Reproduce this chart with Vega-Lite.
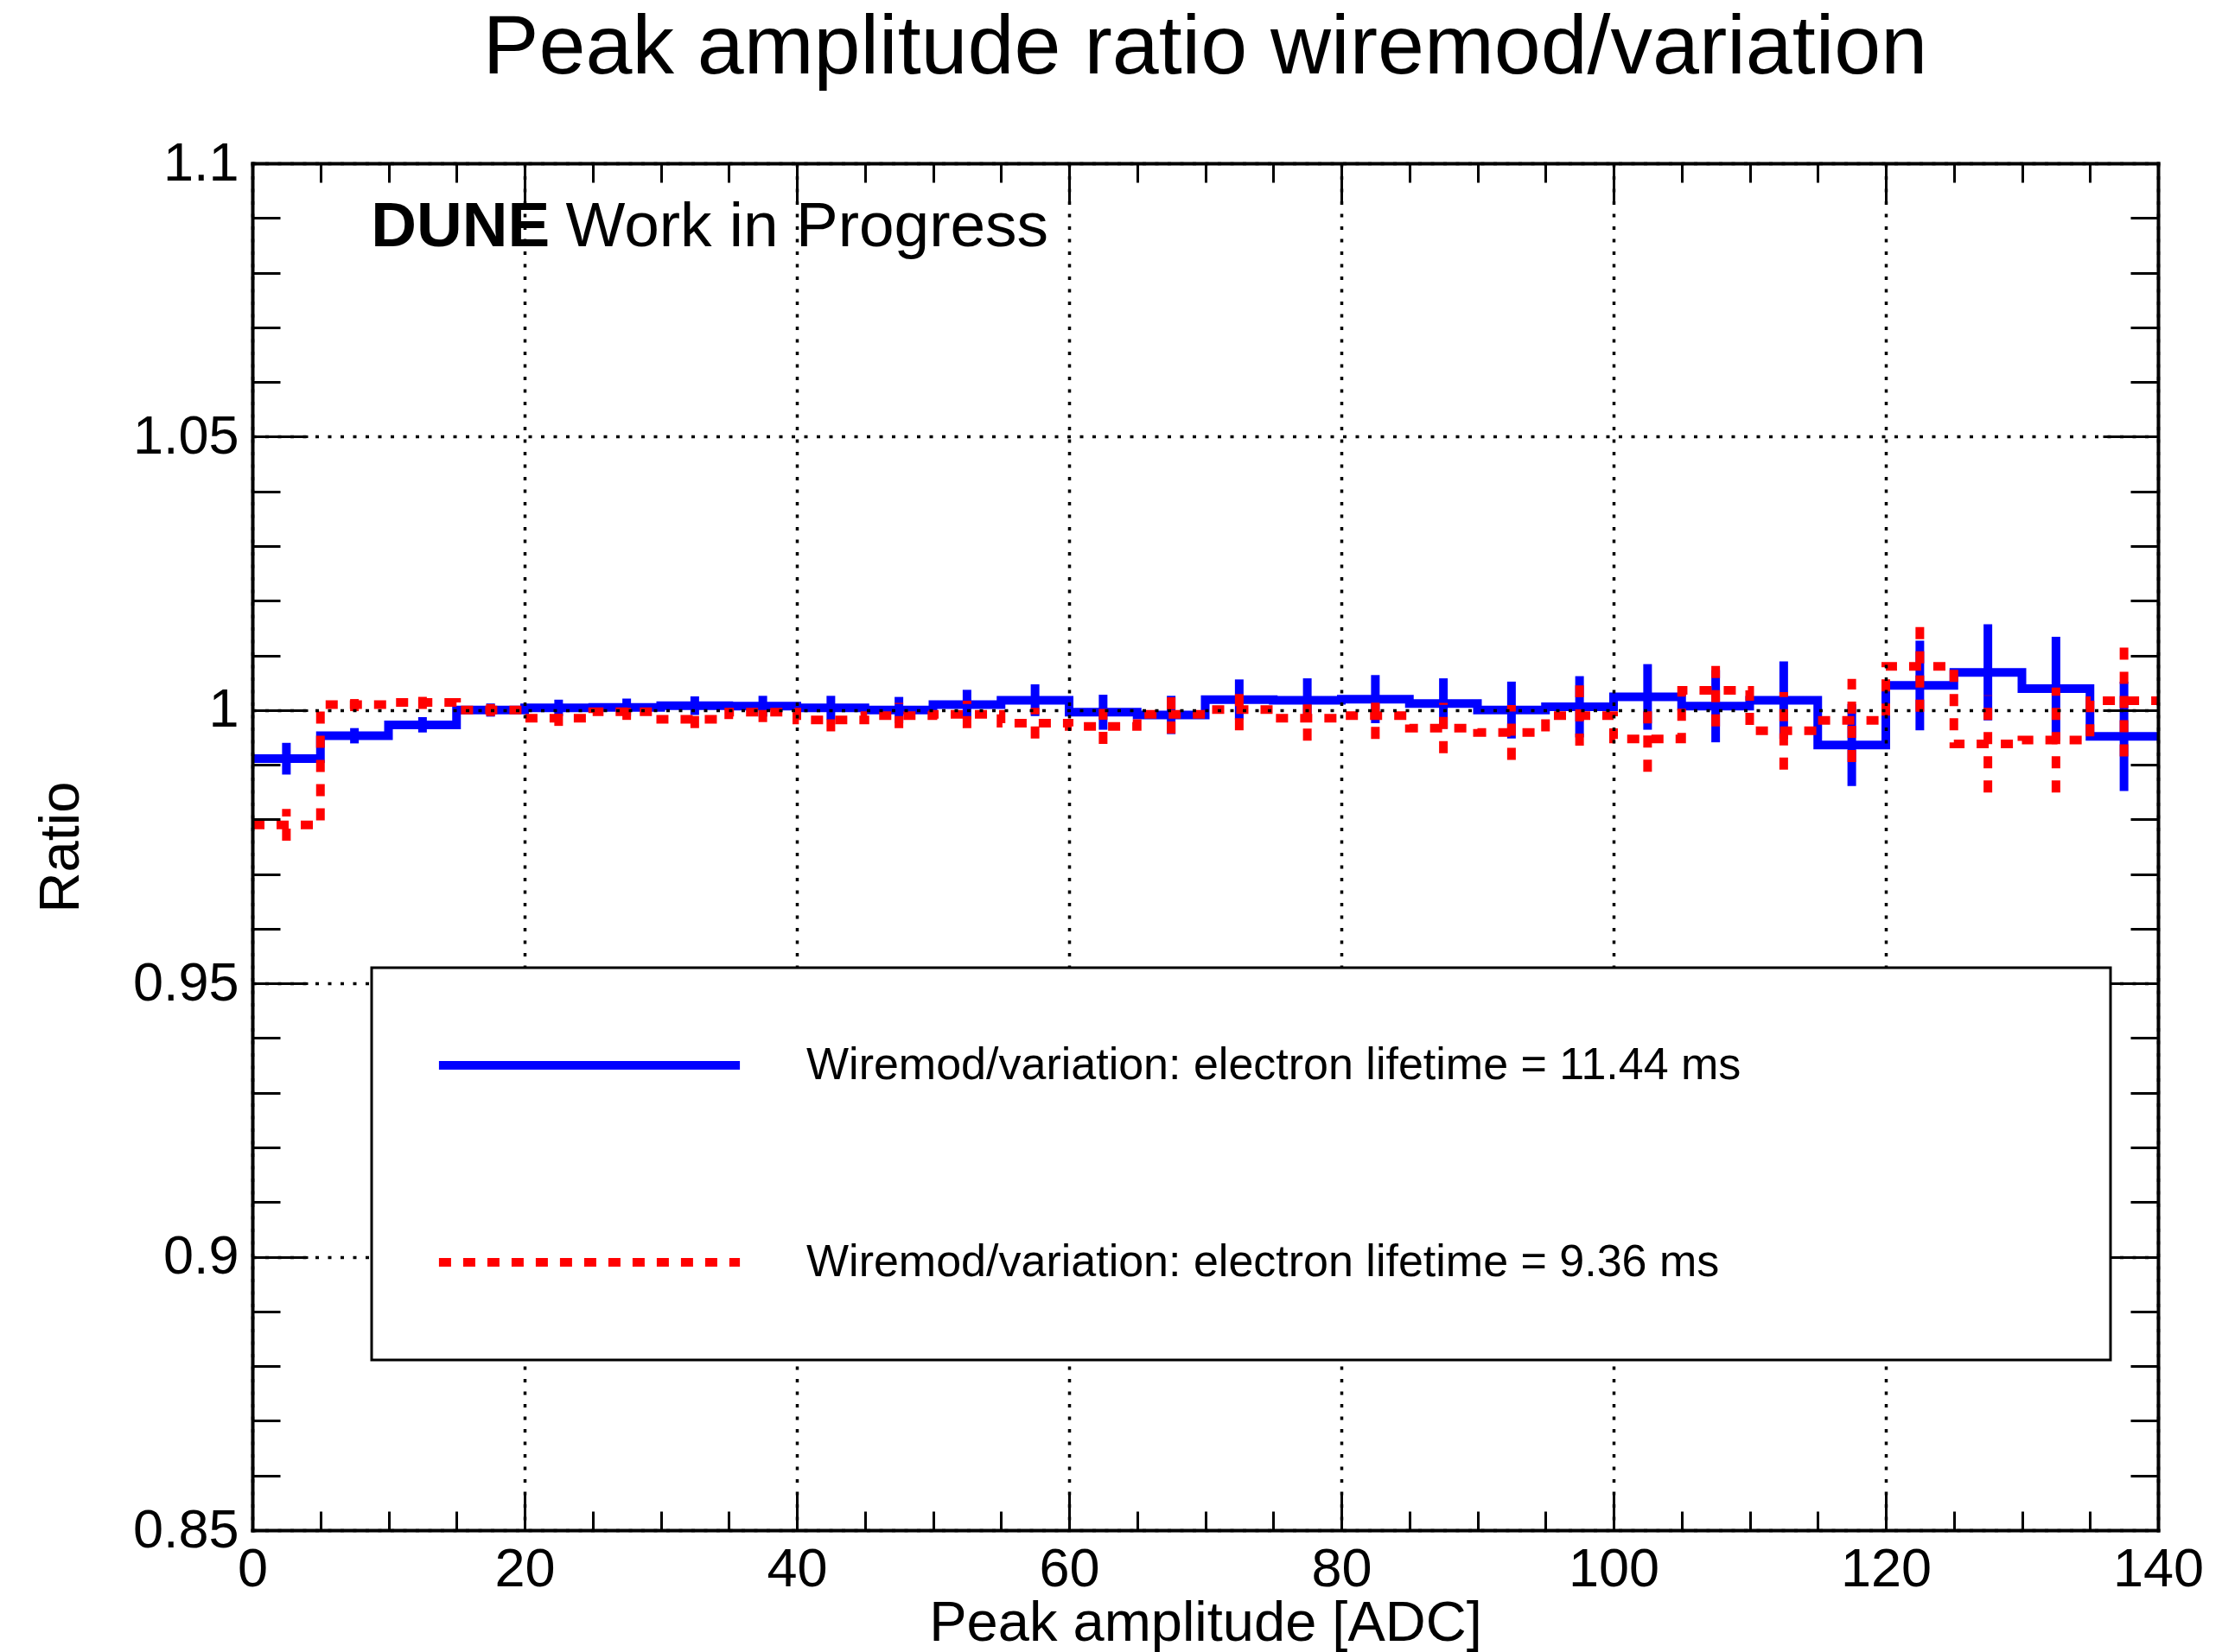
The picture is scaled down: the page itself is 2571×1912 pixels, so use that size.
{
  "$schema": "https://vega.github.io/schema/vega-lite/v6.json",
  "width": 2205,
  "height": 1582,
  "autosize": {"type": "none"},
  "padding": {"left": 292, "top": 189, "right": 74, "bottom": 141},
  "background": "white",
  "title": {
    "text": "Peak amplitude ratio wiremod/variation",
    "font": "Liberation Sans",
    "fontSize": 97,
    "fontWeight": "normal",
    "color": "black",
    "anchor": "middle",
    "frame": "group",
    "baseline": "alphabetic",
    "offset": -24
  },
  "datasets": {
    "blue": [
      {"s": "Wiremod/variation: electron lifetime = 11.44 ms", "lo": 0, "hi": 5, "x": 2.5, "y": 0.9911, "e": 0.0029},
      {"s": "Wiremod/variation: electron lifetime = 11.44 ms", "lo": 5, "hi": 10, "x": 7.5, "y": 0.9953, "e": 0.0014},
      {"s": "Wiremod/variation: electron lifetime = 11.44 ms", "lo": 10, "hi": 15, "x": 12.5, "y": 0.9973, "e": 0.0014},
      {"s": "Wiremod/variation: electron lifetime = 11.44 ms", "lo": 15, "hi": 20, "x": 17.5, "y": 1.0000, "e": 0.0012},
      {"s": "Wiremod/variation: electron lifetime = 11.44 ms", "lo": 20, "hi": 25, "x": 22.5, "y": 1.0004, "e": 0.0015},
      {"s": "Wiremod/variation: electron lifetime = 11.44 ms", "lo": 25, "hi": 30, "x": 27.5, "y": 1.0005, "e": 0.0016},
      {"s": "Wiremod/variation: electron lifetime = 11.44 ms", "lo": 30, "hi": 35, "x": 32.5, "y": 1.0008, "e": 0.0017},
      {"s": "Wiremod/variation: electron lifetime = 11.44 ms", "lo": 35, "hi": 40, "x": 37.5, "y": 1.0007, "e": 0.0019},
      {"s": "Wiremod/variation: electron lifetime = 11.44 ms", "lo": 40, "hi": 45, "x": 42.5, "y": 1.0004, "e": 0.0022},
      {"s": "Wiremod/variation: electron lifetime = 11.44 ms", "lo": 45, "hi": 50, "x": 47.5, "y": 1.0000, "e": 0.0024},
      {"s": "Wiremod/variation: electron lifetime = 11.44 ms", "lo": 50, "hi": 55, "x": 52.5, "y": 1.0010, "e": 0.0027},
      {"s": "Wiremod/variation: electron lifetime = 11.44 ms", "lo": 55, "hi": 60, "x": 57.5, "y": 1.0018, "e": 0.0029},
      {"s": "Wiremod/variation: electron lifetime = 11.44 ms", "lo": 60, "hi": 65, "x": 62.5, "y": 0.9996, "e": 0.0032},
      {"s": "Wiremod/variation: electron lifetime = 11.44 ms", "lo": 65, "hi": 70, "x": 67.5, "y": 0.9991, "e": 0.0035},
      {"s": "Wiremod/variation: electron lifetime = 11.44 ms", "lo": 70, "hi": 75, "x": 72.5, "y": 1.0019, "e": 0.0037},
      {"s": "Wiremod/variation: electron lifetime = 11.44 ms", "lo": 75, "hi": 80, "x": 77.5, "y": 1.0018, "e": 0.0040},
      {"s": "Wiremod/variation: electron lifetime = 11.44 ms", "lo": 80, "hi": 85, "x": 82.5, "y": 1.0020, "e": 0.0044},
      {"s": "Wiremod/variation: electron lifetime = 11.44 ms", "lo": 85, "hi": 90, "x": 87.5, "y": 1.0012, "e": 0.0046},
      {"s": "Wiremod/variation: electron lifetime = 11.44 ms", "lo": 90, "hi": 95, "x": 92.5, "y": 1.0000, "e": 0.0052},
      {"s": "Wiremod/variation: electron lifetime = 11.44 ms", "lo": 95, "hi": 100, "x": 97.5, "y": 1.0006, "e": 0.0056},
      {"s": "Wiremod/variation: electron lifetime = 11.44 ms", "lo": 100, "hi": 105, "x": 102.5, "y": 1.0024, "e": 0.0060},
      {"s": "Wiremod/variation: electron lifetime = 11.44 ms", "lo": 105, "hi": 110, "x": 107.5, "y": 1.0007, "e": 0.0066},
      {"s": "Wiremod/variation: electron lifetime = 11.44 ms", "lo": 110, "hi": 115, "x": 112.5, "y": 1.0018, "e": 0.0071},
      {"s": "Wiremod/variation: electron lifetime = 11.44 ms", "lo": 115, "hi": 120, "x": 117.5, "y": 0.9936, "e": 0.0075},
      {"s": "Wiremod/variation: electron lifetime = 11.44 ms", "lo": 120, "hi": 125, "x": 122.5, "y": 1.0045, "e": 0.0082},
      {"s": "Wiremod/variation: electron lifetime = 11.44 ms", "lo": 125, "hi": 130, "x": 127.5, "y": 1.0069, "e": 0.0088},
      {"s": "Wiremod/variation: electron lifetime = 11.44 ms", "lo": 130, "hi": 135, "x": 132.5, "y": 1.0039, "e": 0.0095},
      {"s": "Wiremod/variation: electron lifetime = 11.44 ms", "lo": 135, "hi": 140, "x": 137.5, "y": 0.9952, "e": 0.0100}
    ],
    "red": [
      {"s": "Wiremod/variation: electron lifetime = 9.36 ms", "lo": 0, "hi": 5, "x": 2.5, "y": 0.9790, "e": 0.0029},
      {"s": "Wiremod/variation: electron lifetime = 9.36 ms", "lo": 5, "hi": 10, "x": 7.5, "y": 1.0010, "e": 0.0012},
      {"s": "Wiremod/variation: electron lifetime = 9.36 ms", "lo": 10, "hi": 15, "x": 12.5, "y": 1.0014, "e": 0.0012},
      {"s": "Wiremod/variation: electron lifetime = 9.36 ms", "lo": 15, "hi": 20, "x": 17.5, "y": 1.0000, "e": 0.0011},
      {"s": "Wiremod/variation: electron lifetime = 9.36 ms", "lo": 20, "hi": 25, "x": 22.5, "y": 0.9985, "e": 0.0014},
      {"s": "Wiremod/variation: electron lifetime = 9.36 ms", "lo": 25, "hi": 30, "x": 27.5, "y": 0.9997, "e": 0.0015},
      {"s": "Wiremod/variation: electron lifetime = 9.36 ms", "lo": 30, "hi": 35, "x": 32.5, "y": 0.9983, "e": 0.0016},
      {"s": "Wiremod/variation: electron lifetime = 9.36 ms", "lo": 35, "hi": 40, "x": 37.5, "y": 0.9996, "e": 0.0018},
      {"s": "Wiremod/variation: electron lifetime = 9.36 ms", "lo": 40, "hi": 45, "x": 42.5, "y": 0.9982, "e": 0.0021},
      {"s": "Wiremod/variation: electron lifetime = 9.36 ms", "lo": 45, "hi": 50, "x": 47.5, "y": 0.9990, "e": 0.0023},
      {"s": "Wiremod/variation: electron lifetime = 9.36 ms", "lo": 50, "hi": 55, "x": 52.5, "y": 0.9992, "e": 0.0025},
      {"s": "Wiremod/variation: electron lifetime = 9.36 ms", "lo": 55, "hi": 60, "x": 57.5, "y": 0.9976, "e": 0.0028},
      {"s": "Wiremod/variation: electron lifetime = 9.36 ms", "lo": 60, "hi": 65, "x": 62.5, "y": 0.9970, "e": 0.0032},
      {"s": "Wiremod/variation: electron lifetime = 9.36 ms", "lo": 65, "hi": 70, "x": 67.5, "y": 0.9992, "e": 0.0035},
      {"s": "Wiremod/variation: electron lifetime = 9.36 ms", "lo": 70, "hi": 75, "x": 72.5, "y": 1.0001, "e": 0.0038},
      {"s": "Wiremod/variation: electron lifetime = 9.36 ms", "lo": 75, "hi": 80, "x": 77.5, "y": 0.9985, "e": 0.0041},
      {"s": "Wiremod/variation: electron lifetime = 9.36 ms", "lo": 80, "hi": 85, "x": 82.5, "y": 0.9990, "e": 0.0043},
      {"s": "Wiremod/variation: electron lifetime = 9.36 ms", "lo": 85, "hi": 90, "x": 87.5, "y": 0.9967, "e": 0.0046},
      {"s": "Wiremod/variation: electron lifetime = 9.36 ms", "lo": 90, "hi": 95, "x": 92.5, "y": 0.9959, "e": 0.0050},
      {"s": "Wiremod/variation: electron lifetime = 9.36 ms", "lo": 95, "hi": 100, "x": 97.5, "y": 0.9990, "e": 0.0055},
      {"s": "Wiremod/variation: electron lifetime = 9.36 ms", "lo": 100, "hi": 105, "x": 102.5, "y": 0.9947, "e": 0.0060},
      {"s": "Wiremod/variation: electron lifetime = 9.36 ms", "lo": 105, "hi": 110, "x": 107.5, "y": 1.0036, "e": 0.0066},
      {"s": "Wiremod/variation: electron lifetime = 9.36 ms", "lo": 110, "hi": 115, "x": 112.5, "y": 0.9962, "e": 0.0071},
      {"s": "Wiremod/variation: electron lifetime = 9.36 ms", "lo": 115, "hi": 120, "x": 117.5, "y": 0.9981, "e": 0.0076},
      {"s": "Wiremod/variation: electron lifetime = 9.36 ms", "lo": 120, "hi": 125, "x": 122.5, "y": 1.0080, "e": 0.0083},
      {"s": "Wiremod/variation: electron lifetime = 9.36 ms", "lo": 125, "hi": 130, "x": 127.5, "y": 0.9938, "e": 0.0089},
      {"s": "Wiremod/variation: electron lifetime = 9.36 ms", "lo": 130, "hi": 135, "x": 132.5, "y": 0.9945, "e": 0.0096},
      {"s": "Wiremod/variation: electron lifetime = 9.36 ms", "lo": 135, "hi": 140, "x": 137.5, "y": 1.0017, "e": 0.0102}
    ]
  },
  "layer": [
    {
      "data": {"name": "blue"},
      "transform": [{"fold": ["lo", "hi"], "as": ["k", "xe"]}],
      "mark": {"type": "line", "strokeWidth": 10, "strokeJoin": "miter", "strokeCap": "butt"},
      "encoding": {
        "x": {
          "field": "xe", "type": "quantitative",
          "scale": {"domain": [0, 140], "nice": false, "zero": false},
          "axis": {
            "orient": "bottom", "offset": 0, "zindex": 1,
            "values": [0, 20, 40, 60, 80, 100, 120, 140],
            "format": "d",
            "tickSize": -44, "labelPadding": 58,
            "grid": true, "domain": true,
            "title": "Peak amplitude [ADC]",
            "titleX": 1102.5, "titleY": 127, "titleAlign": "center", "titleBaseline": "alphabetic", "titleAngle": 0
          }
        },
        "y": {
          "field": "y", "type": "quantitative",
          "scale": {"domain": [0.85, 1.1], "nice": false, "zero": false},
          "axis": {
            "orient": "left", "offset": 0, "zindex": 1,
            "values": [0.85, 0.9, 0.95, 1, 1.05, 1.1],
            "format": "~g",
            "tickSize": -64, "labelPadding": 80,
            "grid": true, "domain": true,
            "title": "Ratio",
            "titleX": -202, "titleY": 791, "titleAlign": "center", "titleBaseline": "alphabetic", "titleAngle": 270
          }
        },
        "order": [
          {"field": "lo", "type": "quantitative"},
          {"field": "k", "type": "nominal", "sort": "descending"}
        ],
        "color": {
          "field": "s", "type": "nominal",
          "scale": {
            "domain": ["Wiremod/variation: electron lifetime = 11.44 ms", "Wiremod/variation: electron lifetime = 9.36 ms"],
            "range": ["#0000ff", "#ff0000"]
          },
          "legend": {
            "orient": "none", "legendX": 138, "legendY": 931, "zindex": 2,
            "title": " ", "titleOrient": "right", "titlePadding": 341, "titleFontSize": 10,
            "padding": 87, "strokeColor": "black", "fillColor": "white",
            "symbolType": "M-8.29,0H8.29", "symbolSize": 1764, "symbolStrokeWidth": 10,
            "symbolOffset": 139, "labelOffset": 225, "rowPadding": 176,
            "labelFont": "Liberation Sans", "labelFontSize": 52, "labelColor": "black", "labelLimit": 3000
          }
        },
        "strokeDash": {
          "field": "s", "type": "nominal",
          "scale": {
            "domain": ["Wiremod/variation: electron lifetime = 11.44 ms", "Wiremod/variation: electron lifetime = 9.36 ms"],
            "range": [[1, 0], [14, 14]]
          },
          "legend": {
            "orient": "none", "legendX": 138, "legendY": 931, "zindex": 2,
            "title": " ", "titleOrient": "right", "titlePadding": 341, "titleFontSize": 10,
            "padding": 87, "strokeColor": "black", "fillColor": "white",
            "symbolType": "M-8.29,0H8.29", "symbolSize": 1764, "symbolStrokeWidth": 10,
            "symbolOffset": 139, "labelOffset": 225, "rowPadding": 176,
            "labelFont": "Liberation Sans", "labelFontSize": 52, "labelColor": "black", "labelLimit": 3000
          }
        }
      }
    },
    {
      "data": {"name": "blue"},
      "mark": {"type": "errorbar", "ticks": false, "thickness": 10, "color": "#0000ff"},
      "encoding": {
        "x": {
          "field": "x", "type": "quantitative",
          "scale": {"domain": [0, 140], "nice": false, "zero": false},
          "axis": {
            "orient": "bottom", "offset": 0, "zindex": 1,
            "values": [5, 10, 15, 25, 30, 35, 45, 50, 55, 65, 70, 75, 85, 90, 95, 105, 110, 115, 125, 130, 135],
            "tickSize": -22, "labels": false, "grid": false, "domain": false, "title": null
          }
        },
        "y": {
          "field": "y", "type": "quantitative",
          "scale": {"domain": [0.85, 1.1], "nice": false, "zero": false},
          "axis": {
            "orient": "left", "offset": 0, "zindex": 1,
            "values": [0.86, 0.87, 0.88, 0.89, 0.91, 0.92, 0.93, 0.94, 0.96, 0.97, 0.98, 0.99, 1.01, 1.02, 1.03, 1.04, 1.06, 1.07, 1.08, 1.09],
            "tickSize": -32, "labels": false, "grid": false, "domain": false, "title": null
          }
        },
        "yError": {"field": "e"}
      }
    },
    {
      "data": {"name": "red"},
      "transform": [{"fold": ["lo", "hi"], "as": ["k", "xe"]}],
      "mark": {"type": "line", "strokeWidth": 10, "strokeJoin": "miter", "strokeCap": "butt"},
      "encoding": {
        "x": {
          "field": "xe", "type": "quantitative",
          "scale": {"domain": [0, 140], "nice": false, "zero": false},
          "axis": {
            "orient": "top", "offset": 0, "zindex": 1,
            "values": [0, 20, 40, 60, 80, 100, 120, 140],
            "tickSize": -44, "labels": false, "grid": false, "domain": true, "title": null
          }
        },
        "y": {
          "field": "y", "type": "quantitative",
          "scale": {"domain": [0.85, 1.1], "nice": false, "zero": false},
          "axis": {
            "orient": "right", "offset": 0, "zindex": 1,
            "values": [0.85, 0.9, 0.95, 1, 1.05, 1.1],
            "tickSize": -64, "labels": false, "grid": false, "domain": true, "title": null
          }
        },
        "order": [
          {"field": "lo", "type": "quantitative"},
          {"field": "k", "type": "nominal", "sort": "descending"}
        ],
        "color": {"field": "s", "type": "nominal"},
        "strokeDash": {"field": "s", "type": "nominal"}
      }
    },
    {
      "data": {"name": "red"},
      "mark": {"type": "errorbar", "ticks": false, "thickness": 10, "color": "#ff0000", "rule": {"strokeDash": [14, 14]}},
      "encoding": {
        "x": {
          "field": "x", "type": "quantitative",
          "scale": {"domain": [0, 140], "nice": false, "zero": false},
          "axis": {
            "orient": "top", "offset": 0, "zindex": 1,
            "values": [5, 10, 15, 25, 30, 35, 45, 50, 55, 65, 70, 75, 85, 90, 95, 105, 110, 115, 125, 130, 135],
            "tickSize": -22, "labels": false, "grid": false, "domain": false, "title": null
          }
        },
        "y": {
          "field": "y", "type": "quantitative",
          "scale": {"domain": [0.85, 1.1], "nice": false, "zero": false},
          "axis": {
            "orient": "right", "offset": 0, "zindex": 1,
            "values": [0.86, 0.87, 0.88, 0.89, 0.91, 0.92, 0.93, 0.94, 0.96, 0.97, 0.98, 0.99, 1.01, 1.02, 1.03, 1.04, 1.06, 1.07, 1.08, 1.09],
            "tickSize": -32, "labels": false, "grid": false, "domain": false, "title": null
          }
        },
        "yError": {"field": "e"}
      }
    },
    {
      "data": {"values": [{}]},
      "mark": {"type": "text", "text": "DUNE", "font": "Liberation Sans", "fontWeight": "bold", "fontSize": 73, "align": "left", "baseline": "alphabetic", "color": "black"},
      "encoding": {
        "x": {"datum": 8.72, "type": "quantitative", "axis": null},
        "y": {"datum": 1.0848, "type": "quantitative", "axis": null}
      }
    },
    {
      "data": {"values": [{}]},
      "mark": {"type": "text", "text": "Work in Progress", "font": "Liberation Sans", "fontWeight": "normal", "fontSize": 73, "align": "left", "baseline": "alphabetic", "color": "black"},
      "encoding": {
        "x": {"datum": 23.02, "type": "quantitative", "axis": null},
        "y": {"datum": 1.0848, "type": "quantitative", "axis": null}
      }
    }
  ],
  "resolve": {"axis": {"x": "independent", "y": "independent"}},
  "config": {
    "view": {"stroke": null},
    "legend": {"strokeWidth": 3},
    "axis": {
      "labelFont": "Liberation Sans", "labelFontSize": 63, "labelColor": "black",
      "titleFont": "Liberation Sans", "titleFontSize": 65, "titleFontWeight": "normal", "titleColor": "black",
      "tickColor": "black", "tickWidth": 3, "domainColor": "black", "domainWidth": 4, "domainCap": "square",
      "gridColor": "black", "gridDash": [4, 10.5], "gridWidth": 3.5, "gridOpacity": 1,
      "labelFlush": false, "labelOverlap": false, "labelBound": false
    }
  }
}
